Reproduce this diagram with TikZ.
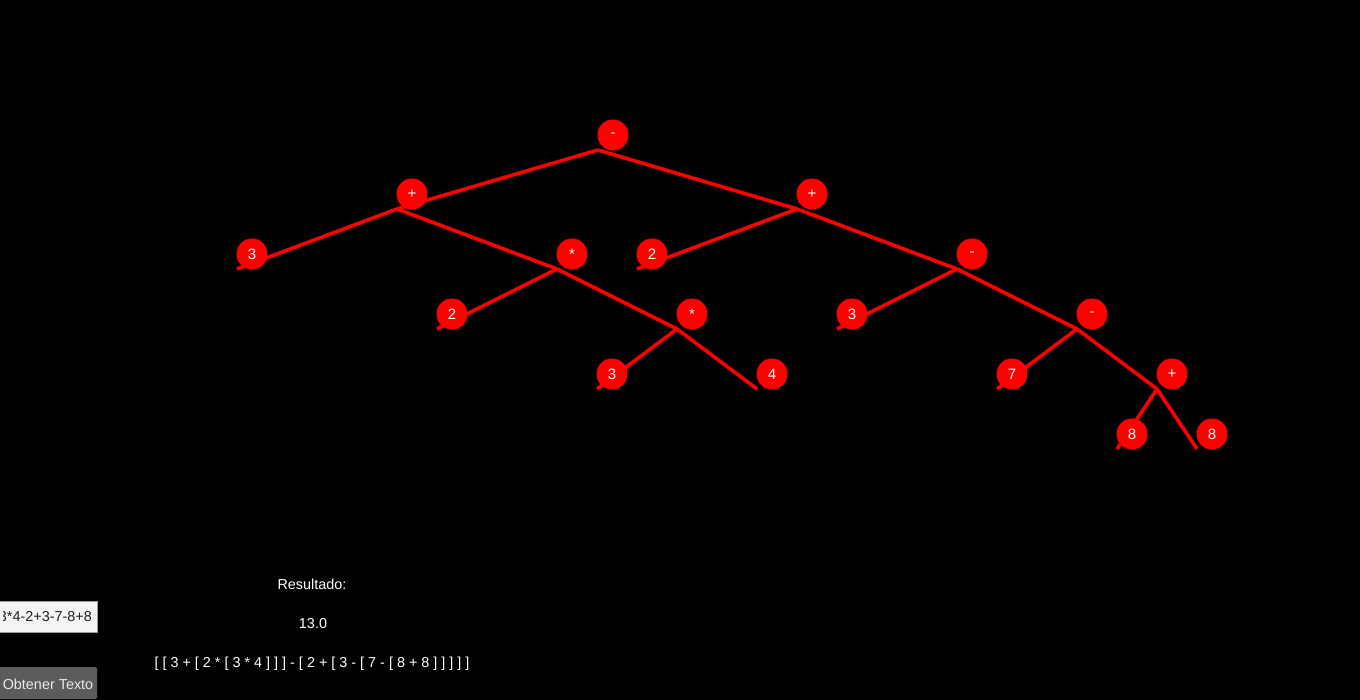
\documentclass[tikz,border=0pt]{standalone}
\usepackage{fontspec}
\setmainfont{Liberation Sans}
\definecolor{fieldbg}{HTML}{F4F4F4}
\definecolor{fieldedge}{HTML}{9A9A9A}
\definecolor{btnbg}{HTML}{5C5C5C}
\definecolor{txtdark}{HTML}{202020}
\begin{document}
\begin{tikzpicture}[x=1pt,y=-1pt]
\tikzset{
  op/.style={circle, fill=red, text=white, minimum size=31pt, inner sep=0pt,
    font=\fontsize{15}{15}\selectfont},
  edge/.style={draw=red, line width=3.6pt, line cap=butt, line join=miter},
  label/.style={text=white, font=\fontsize{14.4}{16}\selectfont, inner sep=0pt}
}
\useasboundingbox (0,0) rectangle (1360,700);
\fill[black] (0,0) rectangle (1360,700);
% anchor points (lower-left of each circle)
\coordinate (ra)   at (598,150);
\coordinate (pLa)  at (397,209);
\coordinate (pRa)  at (797,209);
\coordinate (t3aa) at (237,269);
\coordinate (m1a)  at (557,269);
\coordinate (t2ba) at (637,269);
\coordinate (s1a)  at (957,269);
\coordinate (t2aa) at (437,329);
\coordinate (m2a)  at (677,329);
\coordinate (t3ca) at (837,329);
\coordinate (s2a)  at (1077,329);
\coordinate (t3ba) at (597,389);
\coordinate (t4a)  at (757,389);
\coordinate (t7a)  at (997,389);
\coordinate (p3a)  at (1157,389);
\coordinate (t8aa) at (1117,449);
\coordinate (t8ba) at (1197,449);
% edges
\draw[edge] (ra) -- (pLa);
\draw[edge] (ra) -- (pRa);
\draw[edge] (pLa) -- (t3aa);
\draw[edge] (pLa) -- (m1a);
\draw[edge] (m1a) -- (t2aa);
\draw[edge] (m1a) -- (m2a);
\draw[edge] (m2a) -- (t3ba);
\draw[edge] (m2a) -- (t4a);
\draw[edge] (pRa) -- (t2ba);
\draw[edge] (pRa) -- (s1a);
\draw[edge] (s1a) -- (t3ca);
\draw[edge] (s1a) -- (s2a);
\draw[edge] (s2a) -- (t7a);
\draw[edge] (s2a) -- (p3a);
\draw[edge] (p3a) -- (t8aa);
\draw[edge] (p3a) -- (t8ba);
% nodes
\node[op] (r)   at ([shift={(15,-15)}]ra)   {-};
\node[op] (pL)  at ([shift={(15,-15)}]pLa)  {+};
\node[op] (pR)  at ([shift={(15,-15)}]pRa)  {+};
\node[op] (t3a) at ([shift={(15,-15)}]t3aa) {3};
\node[op] (m1)  at ([shift={(15,-15)}]m1a)  {*};
\node[op] (t2b) at ([shift={(15,-15)}]t2ba) {2};
\node[op] (s1)  at ([shift={(15,-15)}]s1a)  {-};
\node[op] (t2a) at ([shift={(15,-15)}]t2aa) {2};
\node[op] (m2)  at ([shift={(15,-15)}]m2a)  {*};
\node[op] (t3c) at ([shift={(15,-15)}]t3ca) {3};
\node[op] (s2)  at ([shift={(15,-15)}]s2a)  {-};
\node[op] (t3b) at ([shift={(15,-15)}]t3ba) {3};
\node[op] (t4)  at ([shift={(15,-15)}]t4a)  {4};
\node[op] (t7)  at ([shift={(15,-15)}]t7a)  {7};
\node[op] (p3)  at ([shift={(15,-15)}]p3a)  {+};
\node[op] (t8a) at ([shift={(15,-15)}]t8aa) {8};
\node[op] (t8b) at ([shift={(15,-15)}]t8ba) {8};
% result texts
\node[label] (res)  at (312,584) {Resultado:};
\node[label] (val)  at (313,624) {13.0};
\node[label] (expr) at (312,664) {[ [ 3 + [ 2 * [ 3 * 4 ] ] ] - [ 2 + [ 3 - [ 7 - [ 8 + 8 ] ] ] ] ]};
% text field
\draw[fill=fieldbg, draw=fieldedge, line width=0.8pt] (-1,601) rectangle (97,632);
\begin{scope}
\clip (3,602) rectangle (96,631);
\node[anchor=east, text=txtdark, inner sep=0pt, font=\fontsize{14.4}{16}\selectfont] (field) at (92,616.5) {3*4-2+3-7-8+8};
\end{scope}
% button
\fill[btnbg, rounded corners=1.5pt] (-2,667) rectangle (97,699);
\node[text=white!92!black, inner sep=0pt, font=\fontsize{14.4}{16}\selectfont] (btn) at (48,684) {Obtener Texto};
\end{tikzpicture}
\end{document}
